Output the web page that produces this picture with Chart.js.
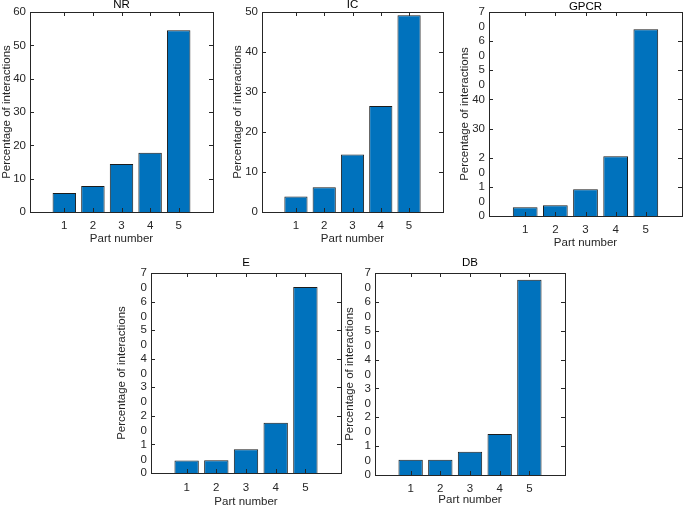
<!DOCTYPE html>
<html><head><meta charset="utf-8">
<script src="https://cdn.jsdelivr.net/npm/chart.js@4.4.0/dist/chart.umd.min.js"></script>
<style>
html,body{margin:0;padding:0;background:#fff;}
body{width:685px;height:509px;overflow:hidden;position:relative;}
.p{position:absolute;}
.p canvas{display:block;}
</style></head><body>
<div id="p0" class="p"><canvas></canvas></div>
<div id="p1" class="p"><canvas></canvas></div>
<div id="p2" class="p"><canvas></canvas></div>
<div id="p3" class="p"><canvas></canvas></div>
<div id="p4" class="p"><canvas></canvas></div>
<script>
// ---- data ----
const partNumbers = [1, 2, 3, 4, 5];
const xTickLabels = ['1', '2', '3', '4', '5'];
const panelTitles = ['NR', 'IC', 'GPCR', 'E', 'DB'];
const yAxisTitle = 'Percentage of interactions';
const xAxisTitle = 'Part number';

const nrValues = [5.7, 7.8, 14.4, 17.8, 54.5];
const icValues = [3.9, 6.2, 14.4, 26.5, 49.2];
const gpcrValues = [3.0, 3.7, 9.2, 20.5, 64.1];
const eValues = [4.4, 4.5, 8.3, 17.6, 65.1];
const dbValues = [5.3, 5.3, 8.1, 14.2, 67.7];

const nrYTicks = [0, 10, 20, 30, 40, 50, 60];
const nrYLabels = ['0', '10', '20', '30', '40', '50', '60'];
const icYTicks = [0, 10, 20, 30, 40, 50];
const icYLabels = ['0', '10', '20', '30', '40', '50'];
const gpcrYTicks = [0, 10, 20, 30, 40, 50, 60, 70];
const gpcrYLabels = ['0', ['1', '0'], ['2', '0'], '30', '40', ['5', '0'], ['6', '0'], ['7', '0']];
const eYTicks = [0, 10, 20, 30, 40, 50, 60, 70];
const eYLabels = ['0', ['1', '0'], ['2', '0'], ['3', '0'], ['4', '0'], ['5', '0'], ['6', '0'], ['7', '0']];
const dbYTicks = [0, 10, 20, 30, 40, 50, 60, 70];
const dbYLabels = ['0', ['1', '0'], ['2', '0'], ['3', '0'], ['4', '0'], ['5', '0'], ['6', '0'], ['7', '0']];

const xMin = -0.2, xMax = 6.2;

// ---- layout (plot box geometry in page px) ----
const FONT = 'Liberation Sans, Arial, Helvetica, sans-serif';
const FS = 11.5;
const panels = [
  {values: nrValues, yTicks: nrYTicks, yLabels: nrYLabels, L: 30, T: 12, R: 213, B: 212, titleY: 5, yTitleX: 7, xTickDy: 14, xTitleDy: 27},
  {values: icValues, yTicks: icYTicks, yLabels: icYLabels, L: 262, T: 12, R: 443, B: 212, titleY: 4.5, yTitleX: 238, xTickDy: 14, xTitleDy: 27},
  {values: gpcrValues, yTicks: gpcrYTicks, yLabels: gpcrYLabels, L: 489, T: 12, R: 682, B: 216, titleY: 7, yTitleX: 465, xTickDy: 14, xTitleDy: 27},
  {values: eValues, yTicks: eYTicks, yLabels: eYLabels, L: 151, T: 273, R: 341, B: 473, titleY: 263, yTitleX: 122, xTickDy: 14.5, xTitleDy: 29},
  {values: dbValues, yTicks: dbYTicks, yLabels: dbYLabels, L: 375, T: 273, R: 565, B: 475, titleY: 263, yTitleX: 350, xTickDy: 13.5, xTitleDy: 25.5}
];

const boxPlugin = {
  id: 'matlabBox',
  afterDatasetsDraw(chart, args, opts) {
    const {ctx, chartArea: a, scales: {x, y}} = chart;
    ctx.save();
    ctx.strokeStyle = '#262626';
    ctx.lineWidth = 1;
    ctx.beginPath();
    const tl = 4;
    x.ticks.forEach(t => {
      const px = Math.round(x.getPixelForValue(t.value)) + 0.5;
      ctx.moveTo(px, a.bottom); ctx.lineTo(px, a.bottom - tl);
      ctx.moveTo(px, a.top); ctx.lineTo(px, a.top + tl);
    });
    y.ticks.forEach(t => {
      const py = Math.round(y.getPixelForValue(t.value)) + 0.5;
      ctx.moveTo(a.left, py); ctx.lineTo(a.left + tl, py);
      ctx.moveTo(a.right, py); ctx.lineTo(a.right - tl, py);
    });
    ctx.stroke();
    ctx.strokeRect(Math.round(a.left) + 0.5, Math.round(a.top) + 0.5, Math.round(a.right - a.left), Math.round(a.bottom - a.top));
    ctx.fillStyle = '#000';
    ctx.font = FS + 'px ' + FONT;
    ctx.textAlign = 'center';
    ctx.textBaseline = 'middle';
    ctx.fillText(opts.title, (a.left + a.right) / 2, opts.titleY);
    ctx.restore();
  }
};

panels.forEach((p, idx) => {
  const lh = FS * 1.2;
  const yw = Math.round(p.L - p.yTitleX + lh / 2);
  const padTop = Math.round(p.T - p.titleY + 10);
  const xh = Math.round(p.xTitleDy + FS * 1.2 / 2);
  const padRight = 3;
  const cLeft = p.L - yw, cTop = p.T - padTop;
  const cW = yw + (p.R - p.L) + padRight;
  const cH = padTop + (p.B - p.T) + xh;
  const div = document.getElementById('p' + idx);
  div.style.left = cLeft + 'px'; div.style.top = cTop + 'px';
  div.style.width = cW + 'px'; div.style.height = cH + 'px';

  new Chart(div.querySelector('canvas'), {
    type: 'bar',
    data: {
      datasets: [{
        data: p.values.map((v, i) => ({x: partNumbers[i], y: v})),
        backgroundColor: '#0072BD',
        borderColor: '#1c1c1c',
        borderWidth: 1,
        barPercentage: 0.82,
        categoryPercentage: 1
      }]
    },
    options: {
      responsive: true,
      maintainAspectRatio: false,
      animation: false,
      layout: {padding: {top: padTop, right: padRight, left: 0, bottom: 0}},
      plugins: {
        legend: {display: false},
        tooltip: {enabled: false},
        matlabBox: {title: panelTitles[idx], titleY: p.titleY - cTop}
      },
      scales: {
        x: {
          type: 'linear',
          min: xMin, max: xMax,
          offset: false,
          grid: {display: false, offset: false, drawTicks: false},
          border: {display: false},
          afterBuildTicks: s => { s.ticks = partNumbers.map(v => ({value: v})); },
          afterFit: s => { s.height = xh; s.paddingLeft = 0; s.paddingRight = 0; },
          ticks: {
            autoSkip: false,
            maxRotation: 0,
            padding: p.xTickDy - FS * 1.2 / 2,
            color: '#262626',
            font: {family: FONT, size: FS},
            callback: v => xTickLabels[partNumbers.indexOf(v)]
          },
          title: {display: true, text: xAxisTitle, padding: 0, color: '#262626', font: {family: FONT, size: FS}}
        },
        y: {
          type: 'linear',
          min: 0, max: p.yTicks[p.yTicks.length - 1],
          grid: {display: false, drawTicks: false},
          border: {display: false},
          afterBuildTicks: s => { s.ticks = p.yTicks.map(v => ({value: v})); },
          afterFit: s => { s.width = yw; s.paddingTop = 0; s.paddingBottom = 0; },
          ticks: {
            autoSkip: false,
            padding: 4,
            color: '#262626',
            font: {family: FONT, size: FS, lineHeight: 1.3},
            callback: v => {
              const lab = p.yLabels[p.yTicks.indexOf(v)];
              return Array.isArray(lab) ? [''].concat(lab) : lab;
            }
          },
          title: {display: true, text: yAxisTitle, padding: 0, color: '#262626', font: {family: FONT, size: FS}}
        }
      }
    },
    plugins: [boxPlugin]
  });
});
</script>
</body></html>
